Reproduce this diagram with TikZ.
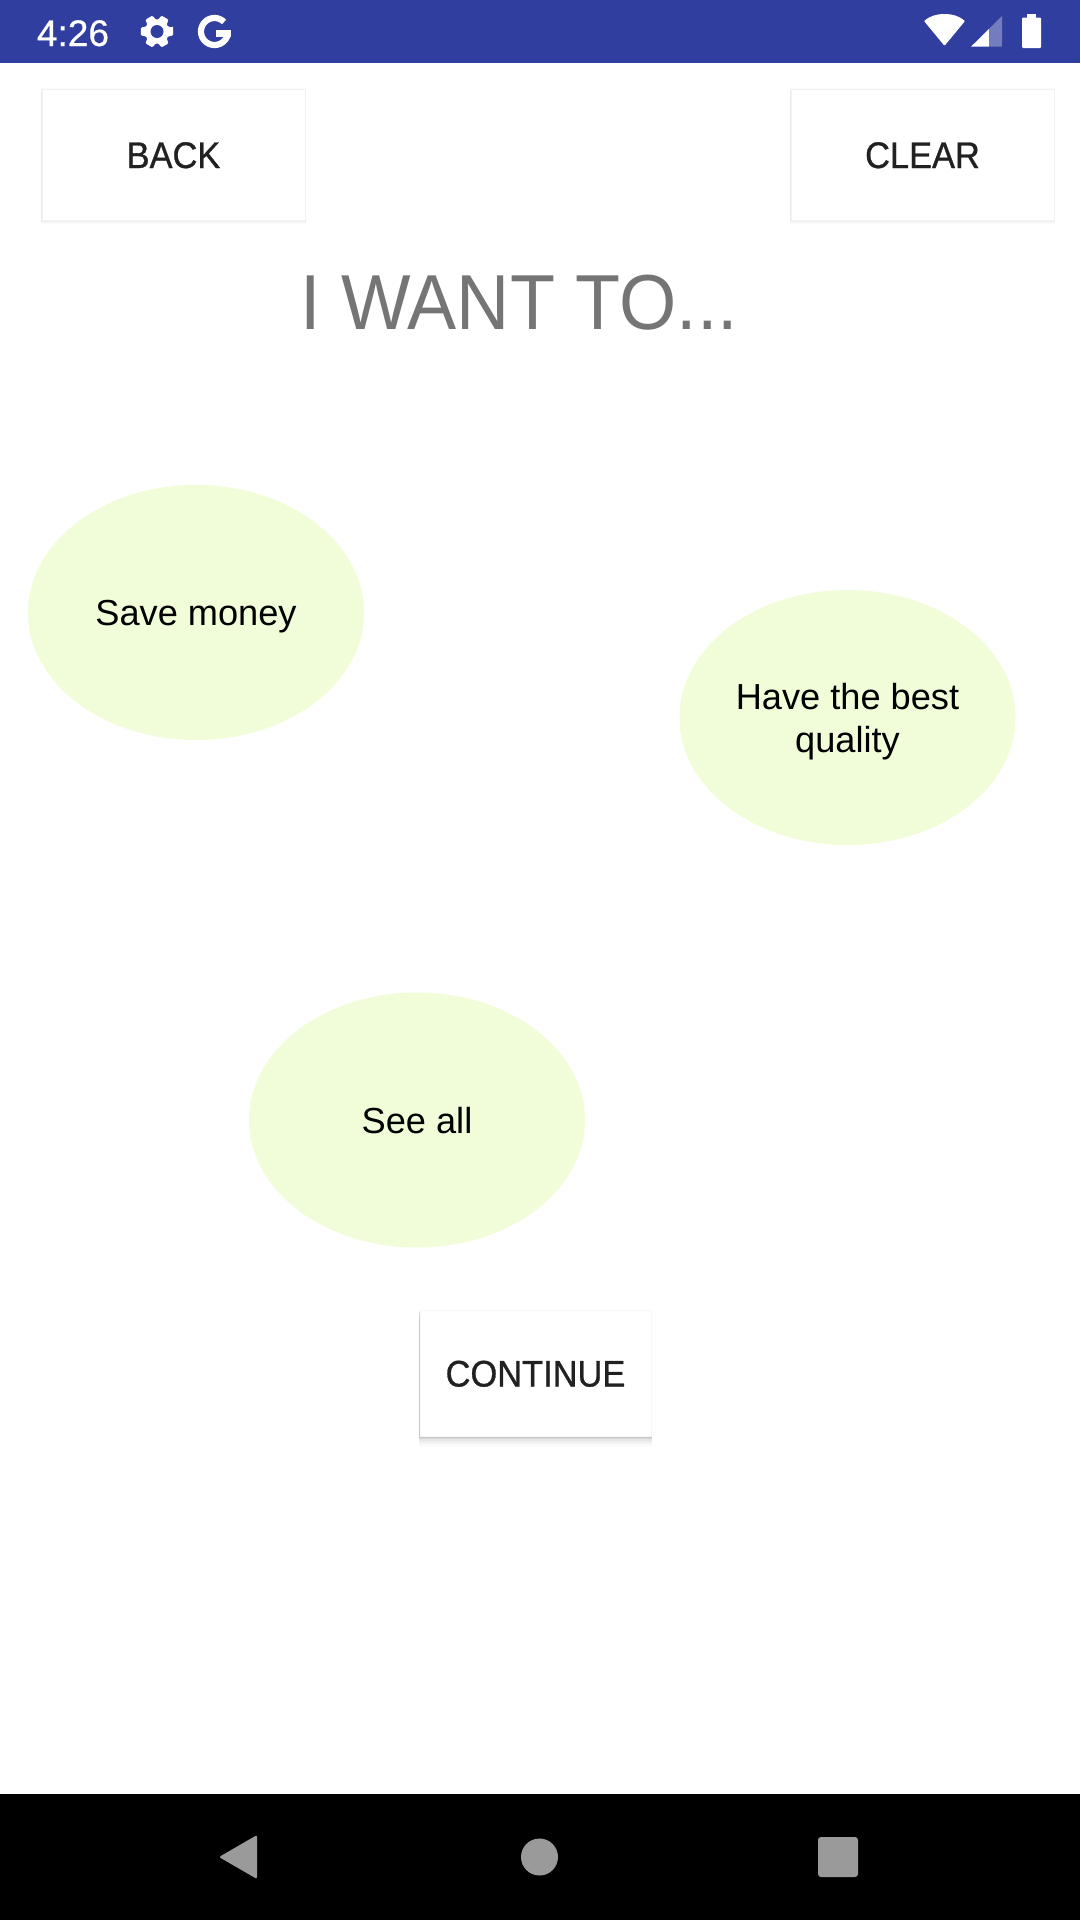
\documentclass[tikz,border=0pt]{standalone}
\usepackage{fontspec}
\setmainfont{Liberation Sans}
\newfontfamily\titlefont[FakeStretch=0.944]{Liberation Sans}
\newfontfamily\btnfont[FakeStretch=0.93,FakeBold=0.8]{Liberation Sans}
\newfontfamily\clockfont[FakeBold=0.5]{Liberation Sans}
\usetikzlibrary{shapes.geometric,shadows,calc}
\definecolor{barblue}{HTML}{303F9F}
\definecolor{blobgreen}{HTML}{F0FDD8}
\definecolor{inkdark}{HTML}{212121}
\definecolor{titlegray}{HTML}{757575}
\definecolor{navgray}{HTML}{9A9A9A}
\definecolor{sigfade}{HTML}{737CBC}
\tikzset{
  softlayer/.style 2 args={drop shadow={shadow xshift=0pt,shadow yshift=-#1pt,fill=black,opacity=#2,shadow scale=1.008}},
  btnbase/.style={line width=0.8pt,fill=white,inner sep=0pt,text=inkdark,
    font=\btnfont\fontsize{37}{37}\selectfont,text height=27pt,text depth=0pt},
  btn/.style={btnbase,draw=black!5,softlayer={0}{.02},softlayer={1}{.025},softlayer={2}{.02},softlayer={3}{.015}},
  btnraised/.style={btnbase,draw=black!3,softlayer={1}{.06},softlayer={2}{.06},softlayer={4}{.04},softlayer={6}{.03},softlayer={8}{.02},softlayer={10}{.012}},
  blob/.style={ellipse,fill=blobgreen,inner sep=0pt,minimum width=336pt,minimum height=255pt,text=black,
    font=\fontsize{36.2}{43}\selectfont,align=center,text depth=0pt},
  navshape/.style={fill=navgray,draw=none}
}
\begin{document}
\begin{tikzpicture}[x=1pt,y=-1pt]
\useasboundingbox (0,0) rectangle (1080,1920);
\fill[white] (0,0) rectangle (1080,1920);
% bars
\fill[barblue] (0,0) rectangle (1080,63);
\fill[black] (0,1794) rectangle (1080,1920);
\node[text=white,font=\clockfont\fontsize{37}{37}\selectfont,inner sep=0pt,anchor=base] (clock) at (73,46) {4:26};
% gear
\coordinate (gc) at (157,31.5);
\fill[white,rounded corners=1pt] ($(gc)+(-14:16.5)$)
  \foreach \a in {0,60,...,300}{ -- ($(gc)+(\a-14:16.5)$) -- ($(gc)+(\a+14:16.5)$) -- ($(gc)+(\a+24:12)$) -- ($(gc)+(\a+36:12)$) }
  -- cycle;
\fill[barblue] (gc) circle[radius=6.5pt];
% G
\draw[white,line width=6.2pt] plot[domain=45:355,samples=50,smooth] ({214.5+13.5*cos(\x)},{31.5-13.5*sin(\x)});
\draw[white,line width=6.2pt] (231,33.5) -- (216,33.5);
% wifi
\fill[white,rounded corners=0.8pt] (944.5,45.8) -- (924,21) .. controls (930,16) and (937,14) .. (944.5,14) .. controls (952,14) and (959,16) .. (965,21) -- cycle;
% signal
\fill[white] (971,46.7) -- (989,46.7) -- (989,28.9) -- cycle;
\fill[sigfade] (989,46.7) -- (1002,46.7) -- (1002,16) -- (989,28.9) -- cycle;
% battery
\fill[white,rounded corners=1pt] (1022,48) rectangle (1041,17.5);
\fill[white] (1027,18) rectangle (1036,14);
% buttons
\node[btn,minimum width=263pt,minimum height=131pt] (back) at (173.5,154.5) {BACK};
\node[btn,minimum width=263pt,minimum height=131pt] (clear) at (922.5,154.5) {CLEAR};
\node[btnraised,minimum width=231pt,minimum height=126pt] (cont) at (535.5,1373) {CONTINUE};
% title
\node[text=titlegray,font=\titlefont\fontsize{78}{78}\selectfont,inner sep=0pt,anchor=base] (title) at (519,329) {I WANT TO...};
% blobs
\node[blob] (save) at (196,612.5) {Save money};
\node[blob] (best) at (847.5,717.5) {Have the best\\quality};
\node[blob] (seeall) at (417,1120) {See all};
% nav
\fill[navshape,rounded corners=2pt] (219,1857) -- (257,1835) -- (257,1879) -- cycle;
\fill[navshape] (539.5,1857) circle[radius=18.5pt];
\fill[navshape,rounded corners=3pt] (818,1837) rectangle (858,1877);
\end{tikzpicture}
\end{document}
